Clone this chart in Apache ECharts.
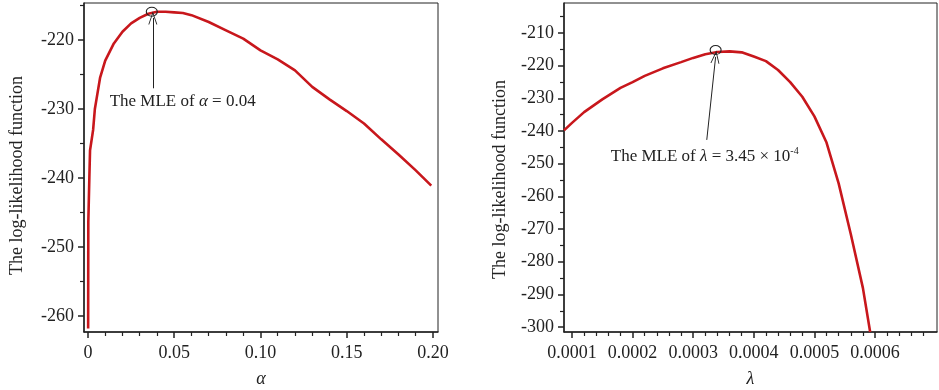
<!DOCTYPE html>
<html>
<head>
<meta charset="utf-8">
<script src="https://cdn.jsdelivr.net/npm/echarts@6/dist/echarts.min.js"></script>
<style>
  html, body { margin: 0; padding: 0; background: #fff; }
  #chart { width: 939px; height: 390px; }
</style>
</head>
<body>
<div id="chart"></div>
<script>
// log-likelihood over alpha (left panel)
const alphaX = [0.0001, 0.0002, 0.0008, 0.0012, 0.003, 0.004, 0.005, 0.007, 0.01, 0.015, 0.02, 0.025, 0.03, 0.035, 0.04, 0.045, 0.05,
  0.055, 0.06, 0.07, 0.08, 0.09, 0.10, 0.11, 0.12, 0.13, 0.14, 0.15, 0.16, 0.17, 0.18, 0.19, 0.199];
const alphaLL = [-261.8, -246.4, -240.0, -236.0, -233.0, -230.0, -228.5, -225.5, -223.0, -220.5, -218.8, -217.6, -216.8, -216.2, -215.9, -215.9, -216.0,
  -216.1, -216.4, -217.4, -218.6, -219.8, -221.5, -222.8, -224.4, -226.8, -228.6, -230.3, -232.1, -234.4, -236.6, -238.9, -241.1];

// log-likelihood over lambda (right panel)
const lambdaX = [0.0000868, 0.0001, 0.00012, 0.00015, 0.00018, 0.0002, 0.00022, 0.00025, 0.00028, 0.0003, 0.00032, 0.00034, 0.00036,
  0.00038, 0.0004, 0.00042, 0.00044, 0.00046, 0.00048, 0.0005, 0.00052, 0.00054, 0.00056, 0.00058, 0.000592];
const lambdaLL = [-239.8, -237.5, -234.2, -230.3, -226.8, -225.0, -223.1, -220.8, -218.9, -217.6, -216.5, -215.8, -215.6,
  -215.9, -217.2, -218.6, -221.3, -225.0, -229.5, -235.5, -243.5, -256.0, -271.5, -288.0, -301.5];

// ticks
const alphaTicks = [0, 0.05, 0.10, 0.15, 0.20];
const alphaMinor = [0.01, 0.02, 0.03, 0.04, 0.06, 0.07, 0.08, 0.09, 0.11, 0.12, 0.13, 0.14, 0.16, 0.17, 0.18, 0.19];
const leftYTicks = [-260, -250, -240, -230, -220];
const leftYMinor = [-255, -245, -235, -225, -215];
const lambdaTicks = [0.0001, 0.0002, 0.0003, 0.0004, 0.0005, 0.0006];
const lambdaMinor = [0.00012, 0.00014, 0.00016, 0.00018, 0.00022, 0.00024, 0.00026, 0.00028, 0.00032, 0.00034, 0.00036, 0.00038,
  0.00042, 0.00044, 0.00046, 0.00048, 0.00052, 0.00054, 0.00056, 0.00058, 0.00062, 0.00064, 0.00066, 0.00068];
const rightYTicks = [-300, -290, -280, -270, -260, -250, -240, -230, -220, -210];
const rightYMinor = [-295, -285, -275, -265, -255, -245, -235, -225, -215, -205];

// annotations: [x, y]
const alphaMle = [0.037, -215.9];
const alphaArrow = [[0.0376, -227.0], [0.0376, -216.8]];
const alphaNote = [0.0549, -228.9];
const lambdaMle = [0.000337, -215.2];
const lambdaArrow = [[0.0003224, -242.7], [0.000337, -217.3]];
const lambdaNote = [0.000319, -247.8];

const FONT = "'Liberation Serif', 'DejaVu Serif', serif";
const INK = '#222';
const RED = '#c8171c';
const chevron = 'path://M0,12 L5,0 L10,12 L9,12 L5,2.5 L1,12 Z';

const chart = echarts.init(document.getElementById('chart'));

function mainX(grid, min, max, ticks, fmt, name) {
  return {
    type: 'value', gridIndex: grid, min: min, max: max, position: 'bottom',
    name: name, nameLocation: 'middle', nameGap: 38,
    nameTextStyle: { fontFamily: FONT, fontSize: 18, fontStyle: 'italic', color: INK },
    axisLine: { show: true, onZero: false, lineStyle: { color: INK, width: 1.5 } },
    axisTick: { show: true, customValues: ticks, length: 6, lineStyle: { color: INK, width: 1.5 } },
    axisLabel: { customValues: ticks, formatter: fmt, margin: 12, fontFamily: FONT, fontSize: 18, color: INK },
    splitLine: { show: false }
  };
}
function minorX(grid, min, max, ticks) {
  return {
    type: 'value', gridIndex: grid, min: min, max: max, position: 'bottom', offset: 0,
    axisLine: { show: false, onZero: false },
    axisTick: { show: true, customValues: ticks, length: 4, lineStyle: { color: INK, width: 1.2 } },
    axisLabel: { show: false }, splitLine: { show: false }
  };
}
function mainY(grid, min, max, ticks, gap, pad) {
  return {
    type: 'value', gridIndex: grid, min: min, max: max, position: 'left',
    name: 'The log-likelihood function', nameLocation: 'middle', nameGap: gap, nameRotate: 90,
    nameTextStyle: { fontFamily: FONT, fontSize: 18, color: INK, padding: pad },
    axisLine: { show: true, onZero: false, lineStyle: { color: INK, width: 1.5 } },
    axisTick: { show: true, customValues: ticks, length: 6, lineStyle: { color: INK, width: 1.5 } },
    axisLabel: { customValues: ticks, margin: 10, fontFamily: FONT, fontSize: 18, color: INK },
    splitLine: { show: false }
  };
}
function minorY(grid, min, max, ticks) {
  return {
    type: 'value', gridIndex: grid, min: min, max: max, position: 'left', offset: 0,
    axisLine: { show: false, onZero: false },
    axisTick: { show: true, customValues: ticks, length: 4, lineStyle: { color: INK, width: 1.2 } },
    axisLabel: { show: false }, splitLine: { show: false }
  };
}

function notes(mle, arrow, note, text) {
  return {
    markPoint: {
      silent: true,
      data: [
        { coord: mle, symbol: 'circle', symbolSize: [11, 9],
          itemStyle: { color: 'rgba(0,0,0,0)', borderColor: INK, borderWidth: 1 }, label: { show: false } },
        { coord: note, symbol: 'circle', symbolSize: 0,
          label: {
            show: true, position: 'inside', formatter: text,
            fontFamily: FONT, fontSize: 17, color: INK,
            rich: {
              i: { fontFamily: FONT, fontSize: 17, fontStyle: 'italic', color: INK },
              t: { fontFamily: FONT, fontSize: 17, color: INK },
              sup: { fontFamily: FONT, fontSize: 10, color: INK, verticalAlign: 'top', lineHeight: 20 }
            }
          } }
      ]
    },
    markLine: {
      silent: true, symbol: ['none', chevron], symbolSize: [9, 13],
      lineStyle: { color: INK, width: 1, type: 'solid' },
      label: { show: false },
      data: [[{ coord: arrow[0] }, { coord: arrow[1] }]]
    }
  };
}

chart.setOption({
  animation: false,
  grid: [
    { left: 84, top: 3, width: 354, height: 329, show: true, borderColor: INK, borderWidth: 1,
      containLabel: false, outerBoundsMode: 'none' },
    { left: 564, top: 3, right: 2, height: 329, show: true, borderColor: INK, borderWidth: 1,
      containLabel: false, outerBoundsMode: 'none' }
  ],
  xAxis: [
    mainX(0, -0.0023, 0.2029, alphaTicks, v => (v === 0 ? '0' : v.toFixed(2)), 'α'),
    minorX(0, -0.0023, 0.2029, alphaMinor),
    mainX(1, 0.0000868, 0.0007023, lambdaTicks, v => v.toFixed(4), 'λ'),
    minorX(1, 0.0000868, 0.0007023, lambdaMinor)
  ],
  yAxis: [
    mainY(0, -262.32, -214.64, leftYTicks, 58, [0, 16, 0, 0]),
    minorY(0, -262.32, -214.64, leftYMinor),
    mainY(1, -301.5, -200.8, rightYTicks, 55, [0, 24, 0, 0]),
    minorY(1, -301.5, -200.8, rightYMinor)
  ],
  series: [
    Object.assign({
      type: 'line', xAxisIndex: 0, yAxisIndex: 0, showSymbol: false,
      data: alphaX.map((x, i) => [x, alphaLL[i]]),
      lineStyle: { color: RED, width: 2.6 }, itemStyle: { color: RED }
    }, notes(alphaMle, alphaArrow, alphaNote, '{t|The MLE of }{i|α}{t| = 0.04}')),
    Object.assign({
      type: 'line', xAxisIndex: 2, yAxisIndex: 2, showSymbol: false,
      data: lambdaX.map((x, i) => [x, lambdaLL[i]]),
      lineStyle: { color: RED, width: 2.6 }, itemStyle: { color: RED }
    }, notes(lambdaMle, lambdaArrow, lambdaNote, '{t|The MLE of }{i|λ}{t| = 3.45 × 10}{sup|-4}'))
  ]
});
</script>
</body>
</html>
